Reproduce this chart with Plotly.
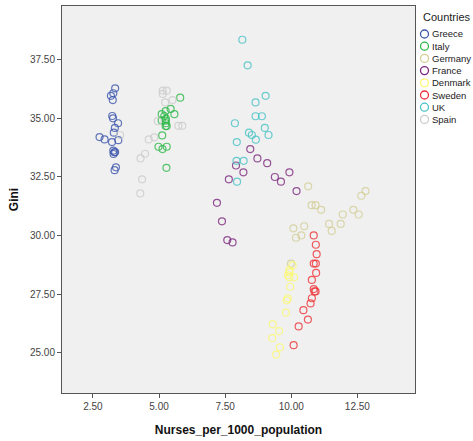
import plotly.graph_objects as go

# Nurses per 1000 population (x) and Gini coefficient (y) by country
greece_x = [3.34, 3.27, 3.18, 3.25, 3.23, 3.26, 3.45, 3.33, 3.29, 2.75, 2.94, 3.22, 3.46, 3.27, 3.31, 3.34, 3.28, 3.37, 3.32]
greece_y = [36.28, 36.07, 35.96, 35.78, 35.10, 35.00, 34.79, 34.59, 34.39, 34.20, 34.10, 33.99, 34.07, 33.62, 33.55, 33.56, 33.48, 32.91, 32.79]

italy_x = [5.80, 5.44, 5.25, 5.58, 5.10, 5.20, 5.26, 5.25, 5.26, 5.29, 5.25, 5.10, 5.12, 4.98, 5.13, 5.29, 5.28]
italy_y = [35.88, 35.40, 35.31, 35.18, 35.18, 35.10, 34.98, 34.90, 34.79, 34.67, 34.67, 34.91, 34.27, 33.79, 33.69, 33.79, 32.89]

germany_x = [10.64, 12.81, 12.65, 10.77, 10.92, 11.13, 11.95, 12.35, 12.55, 11.43, 11.87, 11.53, 10.49, 10.08, 10.38, 10.18, 9.99]
germany_y = [32.10, 31.90, 31.70, 31.30, 31.30, 31.10, 30.90, 31.10, 30.90, 30.50, 30.50, 30.20, 30.40, 30.31, 30.01, 29.91, 28.81]

france_x = [8.45, 8.72, 9.09, 7.91, 8.19, 9.93, 9.38, 7.64, 9.61, 10.20, 7.19, 7.38, 7.58, 7.78]
france_y = [33.69, 33.29, 33.09, 32.99, 32.70, 32.70, 32.50, 32.40, 32.30, 31.90, 31.40, 30.61, 29.81, 29.71]

denmark_x = [10.05, 9.93, 9.93, 9.88, 9.93, 10.11, 9.96, 9.87, 9.83, 9.80, 9.30, 9.54, 9.28, 9.57, 9.43]
denmark_y = [28.73, 28.53, 28.43, 28.31, 28.22, 28.22, 27.82, 27.33, 27.24, 26.72, 26.22, 25.93, 25.63, 25.24, 24.93]

sweden_x = [10.85, 10.93, 10.96, 10.85, 10.93, 10.94, 10.78, 10.85, 10.92, 10.88, 10.78, 10.73, 10.46, 10.63, 10.28, 10.09]
sweden_y = [30.01, 29.61, 29.21, 28.81, 28.81, 28.41, 28.11, 27.72, 27.62, 27.62, 27.33, 27.11, 26.82, 26.42, 26.13, 25.33]

uk_x = [8.15, 8.35, 9.03, 8.65, 8.65, 8.89, 7.87, 9.00, 8.40, 8.51, 8.66, 9.14, 7.94, 7.93, 8.20, 7.95]
uk_y = [38.35, 37.26, 35.96, 35.68, 35.09, 35.09, 34.79, 34.59, 34.39, 34.29, 34.09, 34.29, 33.99, 33.19, 33.19, 32.30]

spain_x = [5.14, 5.29, 5.14, 5.51, 5.23, 4.95, 5.73, 5.88, 3.53, 4.82, 4.61, 4.47, 4.30, 4.36, 4.29]
spain_y = [36.18, 36.18, 36.04, 35.78, 35.68, 34.88, 34.68, 34.68, 34.29, 34.19, 34.10, 33.49, 33.29, 32.40, 31.80]

countries = ["Greece", "Italy", "Germany", "France", "Denmark", "Sweden", "UK", "Spain"]
colors = ["#3E58AC", "#2EB848", "#D3CE97", "#7C287D", "#FBF873", "#EF3338", "#48C2C5", "#CCCCCC"]
series = [
    (greece_x, greece_y), (italy_x, italy_y), (germany_x, germany_y), (france_x, france_y),
    (denmark_x, denmark_y), (sweden_x, sweden_y), (uk_x, uk_y), (spain_x, spain_y),
]

x_ticks = [2.5, 5.0, 7.5, 10.0, 12.5]
y_ticks = [25.0, 27.5, 30.0, 32.5, 35.0, 37.5]

fig = go.Figure()
for name, color, (xs, ys) in zip(countries, colors, series):
    fig.add_trace(go.Scatter(
        x=xs, y=ys, mode="markers", name=name, showlegend=False,
        marker=dict(symbol="circle-open", size=7, color=color, opacity=0.8,
                    line=dict(width=1.2, color=color)),
    ))

# Hand-built legend box on the right (compact spacing)
W, H = 473, 441
ml, mr, mt, mb = 62, 58, 6, 48
pw, ph = W - ml - mr, H - mt - mb

def px_to_paper_x(px):
    return (px - ml) / pw

def px_to_paper_y(py):
    return 1 - (py - mt) / ph

annotations = [dict(
    text="Countries", x=px_to_paper_x(421), y=px_to_paper_y(17), xref="paper", yref="paper",
    xanchor="left", yanchor="middle", showarrow=False,
    font=dict(family="Liberation Sans, Arial, sans-serif", size=11, color="#222"),
)]
shapes = []
for i, (name, color) in enumerate(zip(countries, colors)):
    cy = 34 + i * 12.2
    annotations.append(dict(
        text=name, x=px_to_paper_x(430), y=px_to_paper_y(cy), xref="paper", yref="paper",
        xanchor="left", yanchor="middle", showarrow=False,
        font=dict(family="Liberation Sans, Arial, sans-serif", size=9.5, color="#222"),
    ))
    shapes.append(dict(
        type="circle", xref="paper", yref="paper", xsizemode="pixel", ysizemode="pixel",
        xanchor=px_to_paper_x(424.5), yanchor=px_to_paper_y(cy),
        x0=-4, x1=4, y0=-4, y1=4, line=dict(color=color, width=1.3),
    ))

axis_font = dict(family="Liberation Sans, Arial, sans-serif", size=10, color="#444")
title_font = dict(family="Liberation Sans, Arial, sans-serif", size=12, color="#111")

fig.update_layout(
    width=W, height=H,
    margin=dict(l=ml, r=mr, t=mt, b=mb, pad=0),
    paper_bgcolor="white", plot_bgcolor="#F0F0F0",
    annotations=annotations, shapes=shapes,
    xaxis=dict(
        range=[1.33, 14.68], tickvals=x_ticks, ticktext=[f"{v:.2f}" for v in x_ticks],
        showgrid=False, zeroline=False, showline=True, mirror=True,
        linecolor="#555", linewidth=1, ticks="outside", ticklen=4, tickcolor="#555",
        tickfont=axis_font,
        title=dict(text="<b>Nurses_per_1000_population</b>", font=title_font, standoff=14),
    ),
    yaxis=dict(
        range=[23.29, 39.79], tickvals=y_ticks, ticktext=[f"{v:.2f}" for v in y_ticks],
        showgrid=False, zeroline=False, showline=True, mirror=True,
        linecolor="#555", linewidth=1, ticks="outside", ticklen=4, tickcolor="#555",
        tickfont=axis_font,
        title=dict(text="<b>Gini</b>", font=title_font, standoff=8),
    ),
)

fig.write_html("out.html")
